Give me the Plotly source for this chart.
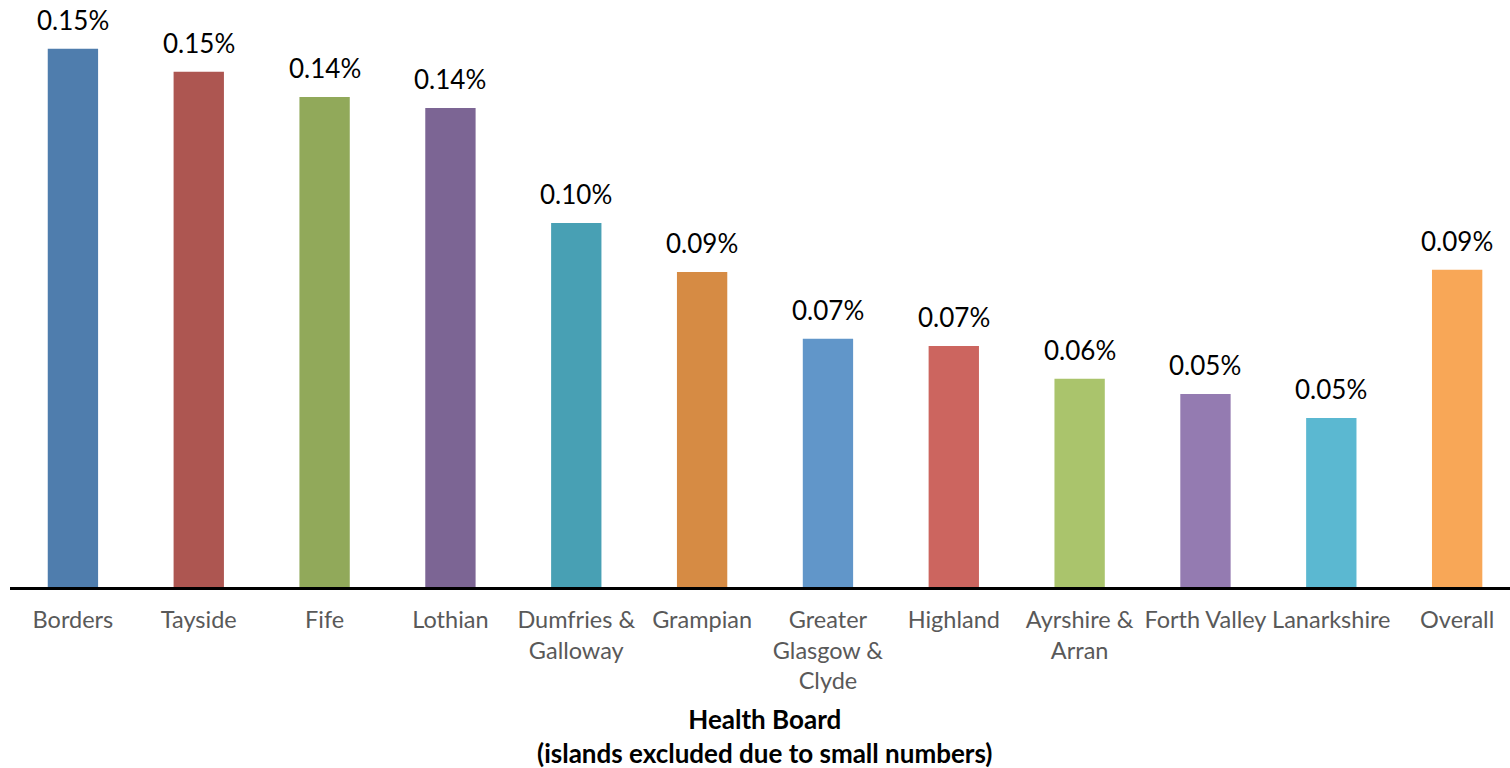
import plotly.graph_objects as go

# Rate by NHS Health Board (percent)
boards = ["Borders", "Tayside", "Fife", "Lothian", "Dumfries &<br>Galloway", "Grampian",
          "Greater<br>Glasgow &<br>Clyde", "Highland", "Ayrshire &<br>Arran", "Forth Valley",
          "Lanarkshire", "Overall"]
rates = [0.152, 0.1455, 0.1384, 0.1353, 0.1028, 0.0890, 0.0701, 0.0681, 0.0588, 0.0545,
         0.0477, 0.0896]
bar_colors = ["#4F7DAD", "#AD5651", "#91A95A", "#7C6594", "#48A0B4", "#D68B44",
              "#6196C9", "#CC655F", "#AAC46C", "#947BB1", "#5BB8D1", "#F8A757"]

FONT = "Lato"
x = list(range(len(boards)))

fig = go.Figure(go.Bar(
    x=x, y=rates, marker=dict(color=bar_colors, line=dict(width=0)),
    hoverinfo="skip",
))

for xi, v in zip(x, rates):
    fig.add_annotation(x=xi, y=v, text=f"{v:.2f}%", showarrow=False,
                       yanchor="bottom", yshift=11,
                       font=dict(family=FONT, size=26, color="#000000"))

fig.add_annotation(xref="paper", yref="paper", x=0.503, y=-0.195,
                   text="<b>Health Board<br>(islands excluded due to small numbers)</b>",
                   showarrow=False, yanchor="top", align="center",
                   font=dict(family=FONT, size=26, color="#000000"))

fig.update_layout(
    width=1510, height=768,
    margin=dict(l=10, r=0, t=0, b=181),
    paper_bgcolor="white", plot_bgcolor="white",
    bargap=0.6, showlegend=False,
    xaxis=dict(
        tickmode="array", tickvals=x, ticktext=boards,
        range=[-0.5, 11.42], showgrid=False, zeroline=False,
        showline=True, linecolor="#000000", linewidth=2.5,
        ticks="", ticklabelstandoff=10,
        tickfont=dict(family=FONT, size=23.5, color="#595959"),
    ),
    yaxis=dict(range=[0, 0.1658], visible=False, showgrid=False, zeroline=False),
)

fig.write_html("out.html")
